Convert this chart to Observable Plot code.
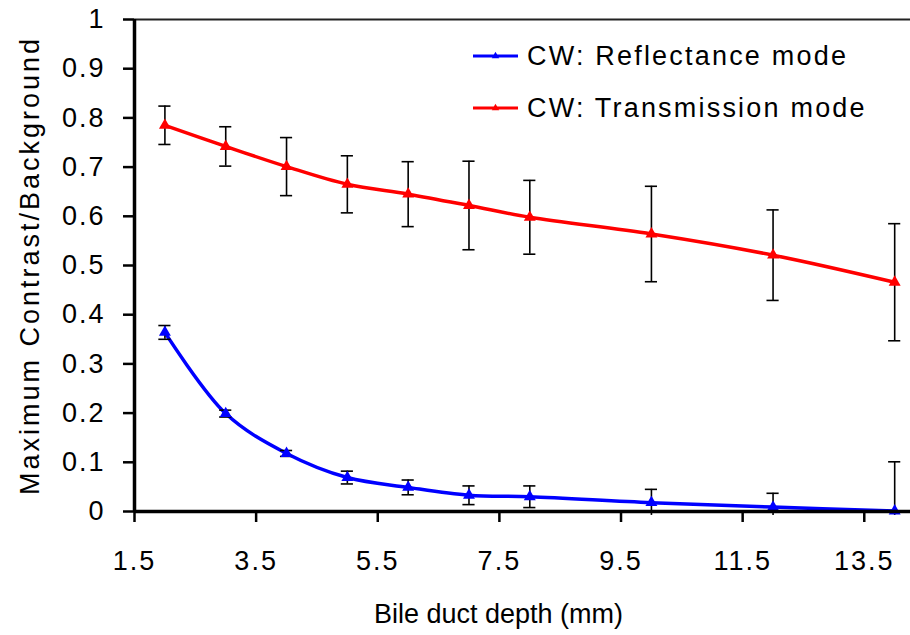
<!DOCTYPE html>
<html>
<head>
<meta charset="utf-8">
<script src="https://cdn.jsdelivr.net/npm/d3@7"></script>
<script src="https://cdn.jsdelivr.net/npm/@observablehq/plot@0.6"></script>
<style>
  body { margin: 0; background: white; }
  #wrap { position: relative; width: 910px; height: 635px; font-family: "Liberation Sans", Arial, sans-serif; }
  #legend { position: absolute; left: 473px; top: 30px; }
  .row { display: flex; align-items: center; height: 52px; font-size: 27px; letter-spacing: 2.2px; color: black; }
  .row svg { margin-right: 9px; }
</style>
</head>
<body>
<div id="wrap"><div id="legend"></div></div>
<script>
// ---- data ----
const depth = [2, 3, 4, 5, 6, 7, 8, 10, 12, 14];
const reflectance    = [0.364, 0.199, 0.118, 0.069, 0.049, 0.033, 0.030, 0.018, 0.009, 0.001];
const reflectanceErr = [0.014, 0.007, 0.006, 0.013, 0.015, 0.019, 0.022, 0.027, 0.028, 0.100];
const transmission    = [0.785, 0.742, 0.701, 0.665, 0.645, 0.622, 0.598, 0.564, 0.521, 0.466];
const transmissionErr = [0.039, 0.040, 0.059, 0.058, 0.066, 0.090, 0.075, 0.097, 0.092, 0.119];
const seriesNames = ["CW: Reflectance mode", "CW: Transmission mode"];
const seriesColors = ["#0000ff", "#ff0000"];
const xTicks = [1.5, 3.5, 5.5, 7.5, 9.5, 11.5, 13.5];
const yTicks = [0, 0.1, 0.2, 0.3, 0.4, 0.5, 0.6, 0.7, 0.8, 0.9, 1];
const xLabel = "Bile duct depth (mm)";
const yLabel = "Maximum Contrast/Background";

// ---- build table ----
const rows = [];
depth.forEach((d, i) => {
  rows.push({series: seriesNames[0], x: d, y: reflectance[i], e: reflectanceErr[i]});
  rows.push({series: seriesNames[1], x: d, y: transmission[i], e: transmissionErr[i]});
});
rows.forEach(r => { r.lo = Math.max(r.y - r.e, -0.008); r.hi = r.y + r.e; });
const capHalf = 0.1;
const FS = 27;

const chart = Plot.plot({
  width: 910,
  height: 635,
  marginLeft: 134,
  marginRight: 0,
  marginTop: 19,
  marginBottom: 124,
  x: {domain: [1.5, 14.26]},
  y: {domain: [0, 1]},
  color: {domain: seriesNames, range: seriesColors},
  style: {fontFamily: "'Liberation Sans', Arial, sans-serif", fontSize: "27px", color: "black", background: "white", overflow: "visible"},
  marks: [
    Plot.axisY({ticks: yTicks, tickSize: 11, tickPadding: 18, label: null, strokeWidth: 2.5, fontSize: FS, tickFormat: d => String(d)}),
    Plot.axisX({ticks: xTicks, tickSize: 11, tickPadding: 28, label: null, strokeWidth: 2.5, fontSize: FS, tickFormat: d => d.toFixed(1)}),
    Plot.ruleY([1], {stroke: "#222", strokeWidth: 2}),
    Plot.line(rows, {x: "x", y: "y", z: "series", stroke: "series", strokeWidth: 3.5, curve: "catmull-rom"}),
    Plot.ruleX(rows, {x: "x", y1: "lo", y2: "hi", stroke: "black", strokeWidth: 1.6}),
    Plot.ruleY(rows, {y: "hi", x1: d => d.x - capHalf, x2: d => d.x + capHalf, stroke: "black", strokeWidth: 1.6}),
    Plot.ruleY(rows.filter(d => d.y - d.e >= -0.008), {y: "lo", x1: d => d.x - capHalf, x2: d => d.x + capHalf, stroke: "black", strokeWidth: 1.6}),
    Plot.dot(rows, {x: "x", y: "y", fill: "series", symbol: "triangle2", r: 5.7, stroke: "none"}),
    Plot.ruleX([1.5], {stroke: "black", strokeWidth: 3.5}),
    Plot.ruleY([0], {stroke: "black", strokeWidth: 3.5}),
    Plot.text([yLabel], {frameAnchor: "left", rotate: -90, dx: -104, textAnchor: "middle", lineAnchor: "middle", fontSize: FS}),
    Plot.text([xLabel], {frameAnchor: "bottom", dx: -24, dy: 103, textAnchor: "middle", lineAnchor: "middle", fontSize: FS})
  ]
});

const svg = d3.select(chart);
svg.selectAll("text").style("letter-spacing", "2px");
svg.selectAll("text").filter(function() { return this.textContent === yLabel; }).style("letter-spacing", "3px");
svg.selectAll("text").filter(function() { return this.textContent === xLabel; }).style("letter-spacing", "0px");

const wrap = document.getElementById("wrap");
wrap.insertBefore(chart, wrap.firstChild);

// legend
const legend = d3.select("#legend");
seriesNames.forEach((name, i) => {
  const row = legend.append("div").attr("class", "row");
  const s = row.append("svg").attr("width", 45).attr("height", 20);
  s.append("line").attr("x1", 0).attr("x2", 45).attr("y1", 10).attr("y2", 10)
    .attr("stroke", seriesColors[i]).attr("stroke-width", 3);
  s.append("path").attr("d", d3.symbol(d3.symbolTriangle2, 40)()).attr("transform", "translate(22.5,10)")
    .attr("fill", seriesColors[i]);
  row.append("span").text(name);
});
</script>
</body>
</html>
